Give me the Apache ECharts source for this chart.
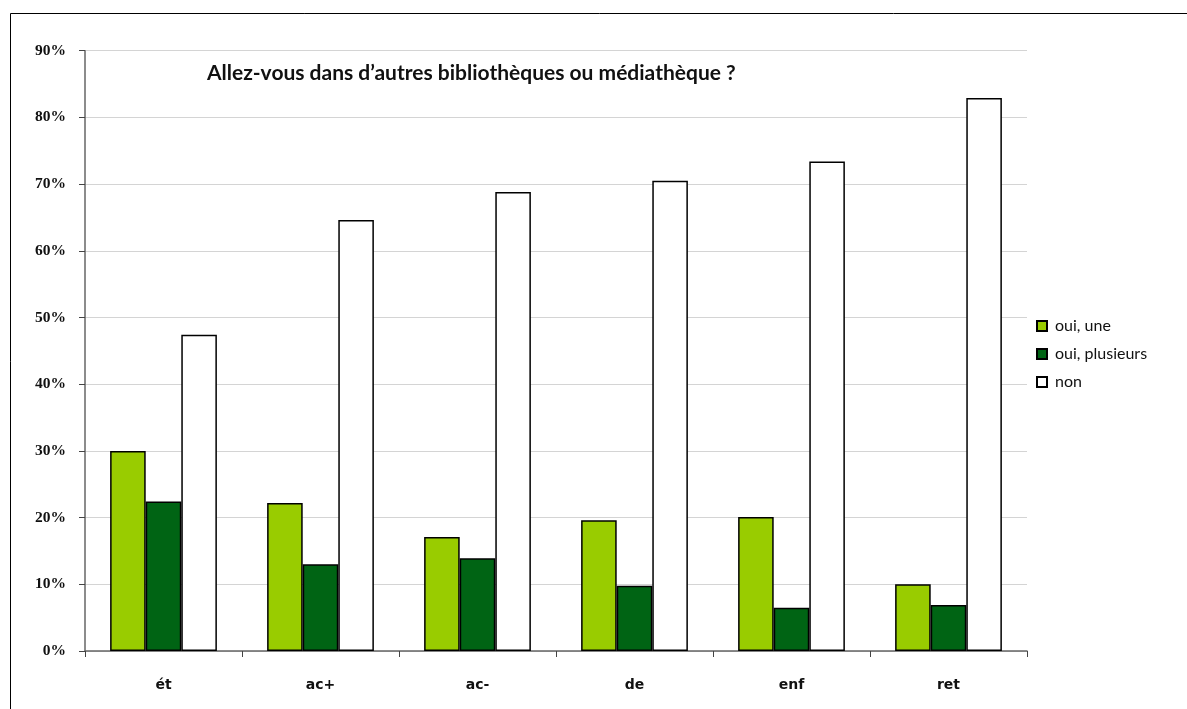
<!DOCTYPE html>
<html><head><meta charset="utf-8">
<script src="https://cdn.jsdelivr.net/npm/echarts@6/dist/echarts.min.js"></script>
<style>html,body{margin:0;padding:0;background:#fff}#c{width:1187px;height:709px}</style>
</head><body><div id="c"></div>
<script>
const categories = ['ét', 'ac+', 'ac-', 'de', 'enf', 'ret'];
const ouiUne = [30.0, 22.2, 17.1, 19.6, 20.1, 10.0];
const ouiPlusieurs = [22.4, 13.0, 13.9, 9.8, 6.5, 6.9];
const non = [47.4, 64.6, 68.8, 70.5, 73.4, 82.9];
const seriesNames = ['oui, une', 'oui, plusieurs', 'non'];
const titleText = 'Allez-vous dans d\u2019autres bibliothèques ou médiathèque ?';

const chart = echarts.init(document.getElementById('c'));
const barStyle = (c) => ({ color: c, borderColor: '#000', borderWidth: 1.5 });
chart.setOption({
  animation: false,
  backgroundColor: '#fff',
  title: {
    text: titleText, left: 202, top: 58,
    textStyle: { fontFamily: 'Lato', fontWeight: 'bold', fontSize: 21, color: '#111' }
  },
  graphic: [
    { type: 'polyline', shape: { points: [[10.5, 740], [10.5, 13.5], [1200, 13.5]] }, style: { stroke: '#000', lineWidth: 1, fill: null } }
  ],
  legend: {
    orient: 'vertical', left: 1031, top: 313, itemGap: 12,
    itemWidth: 10, itemHeight: 10, icon: 'rect',
    data: seriesNames,
    textStyle: { fontFamily: 'Lato', fontSize: 16, color: '#111', padding: [0, 0, 0, 3] }
  },
  grid: { left: 85, right: 160, top: 50.7, bottom: 58, containLabel: false },
  xAxis: {
    type: 'category', data: categories,
    axisLine: { lineStyle: { color: '#666', width: 1.5 } },
    axisTick: { show: true, length: 6, lineStyle: { color: '#444' } },
    axisLabel: { margin: 27, fontFamily: 'DejaVu Sans', fontWeight: 'bold', fontSize: 14, color: '#111' }
  },
  yAxis: {
    type: 'value', min: 0, max: 90, interval: 10,
    axisLine: { show: true, lineStyle: { color: '#666', width: 1.5 } },
    axisTick: { show: true, length: 6, lineStyle: { color: '#444' } },
    splitLine: { lineStyle: { color: '#d4d4d4', width: 1.2 } },
    axisLabel: { margin: 19, formatter: '{value}%', fontFamily: 'Liberation Serif', fontWeight: 'bold', fontSize: 15.5, color: '#111' }
  },
  series: [
    { name: seriesNames[0], type: 'bar', data: ouiUne, barGap: '0%', barCategoryGap: '32%', itemStyle: barStyle('#99cc00') },
    { name: seriesNames[1], type: 'bar', data: ouiPlusieurs, itemStyle: barStyle('#006414') },
    { name: seriesNames[2], type: 'bar', data: non, itemStyle: barStyle('#ffffff') }
  ]
});
</script></body></html>
